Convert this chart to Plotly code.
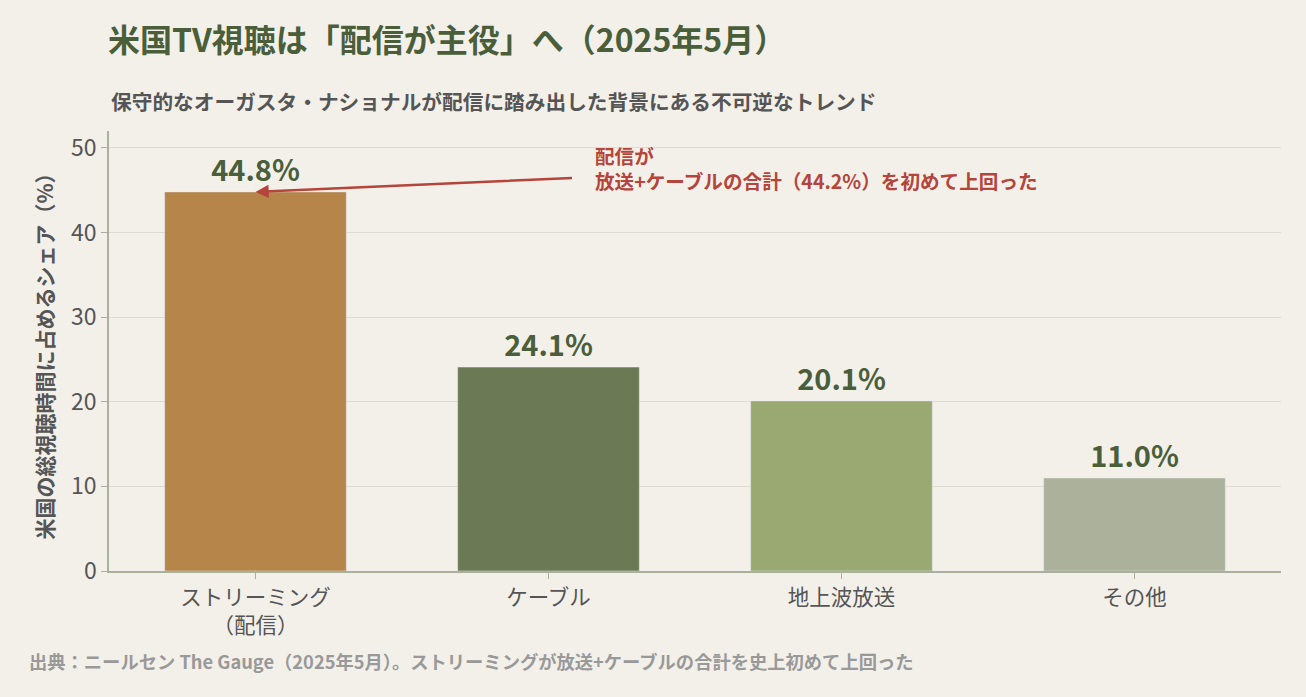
import plotly.graph_objects as go

categories = ["ストリーミング<br>（配信）", "ケーブル", "地上波放送", "その他"]
shares = [44.8, 24.1, 20.1, 11.0]
labels = ["44.8%", "24.1%", "20.1%", "11.0%"]
colors = ["#b5854a", "#6b7a55", "#9aa872", "#abb19b"]

FONT = "Noto Sans CJK JP"
GREEN = "#4a5e3a"
RED = "#b5443a"

fig = go.Figure()
fig.add_trace(go.Bar(
    x=categories, y=shares, marker_color=colors, width=0.62,
    text=labels, textposition="outside", cliponaxis=False,
    textfont=dict(family=FONT, size=29, color=GREEN, weight="bold"),
))

fig.update_layout(
    width=1306, height=697,
    paper_bgcolor="#f3f0ea", plot_bgcolor="#f3f0ea",
    margin=dict(l=109, r=25, t=131, b=126),
    showlegend=False,
    font=dict(family=FONT, color="#555555"),
    title=dict(
        text="米国TV視聴は「配信が主役」へ（2025年5月）",
        x=108 / 1306, xanchor="left", y=1 - 41 / 697, yanchor="middle",
        font=dict(family=FONT, size=32, color=GREEN, weight="bold"),
    ),
    xaxis=dict(
        showline=True, linecolor="#a9b09c", linewidth=1.5,
        ticks="outside", tickcolor="#a9b09c", ticklen=6,
        tickfont=dict(family=FONT, size=21.5, color="#555555"),
    ),
    yaxis=dict(
        range=[0, 52], dtick=10, showline=True, linecolor="#a9b09c", linewidth=1.5,
        ticks="outside", tickcolor="#a9b09c", ticklen=6,
        gridcolor="#dcdcd0", gridwidth=1, zeroline=False,
        tickfont=dict(family=FONT, size=23, color="#555555"),
        title=dict(text="米国の総視聴時間に占めるシェア（%）",
                   font=dict(family=FONT, size=21, color="#555555", weight="bold"),
                   standoff=12),
    ),
)

# arrow from annotation text to top of streaming bar
fig.add_annotation(
    x=0, y=44.8, xref="x", yref="y",
    ax=318, ay=-14, axref="pixel", ayref="pixel",
    text="", showarrow=True, arrowhead=2, arrowsize=1.1, arrowwidth=2.4,
    arrowcolor=RED,
)
fig.add_annotation(
    text="保守的なオーガスタ・ナショナルが配信に踏み出した背景にある不可逆なトレンド",
    xref="paper", yref="paper", x=0, y=1, xshift=0, yshift=(131 - 101),
    xanchor="left", yanchor="middle", showarrow=False,
    font=dict(family=FONT, size=20.7, color="#555555", weight="bold"),
)
fig.add_annotation(
    text="配信が<br>放送+ケーブルの合計（44.2%）を初めて上回った",
    xref="x", yref="paper", x=0, y=1, xshift=337, yshift=-(168 - 131),
    xanchor="left", yanchor="middle", align="left", showarrow=False,
    font=dict(family=FONT, size=19.6, color=RED, weight="bold"),
)
fig.add_annotation(
    text="出典：ニールセン The Gauge（2025年5月）。ストリーミングが放送+ケーブルの合計を史上初めて上回った",
    xref="paper", yref="paper", x=0, y=0, xshift=-(109 - 27), yshift=-(661 - 571),
    xanchor="left", yanchor="middle", showarrow=False,
    font=dict(family=FONT, size=18.3, color="#999999", weight="bold"),
)

fig.write_html("out.html")
